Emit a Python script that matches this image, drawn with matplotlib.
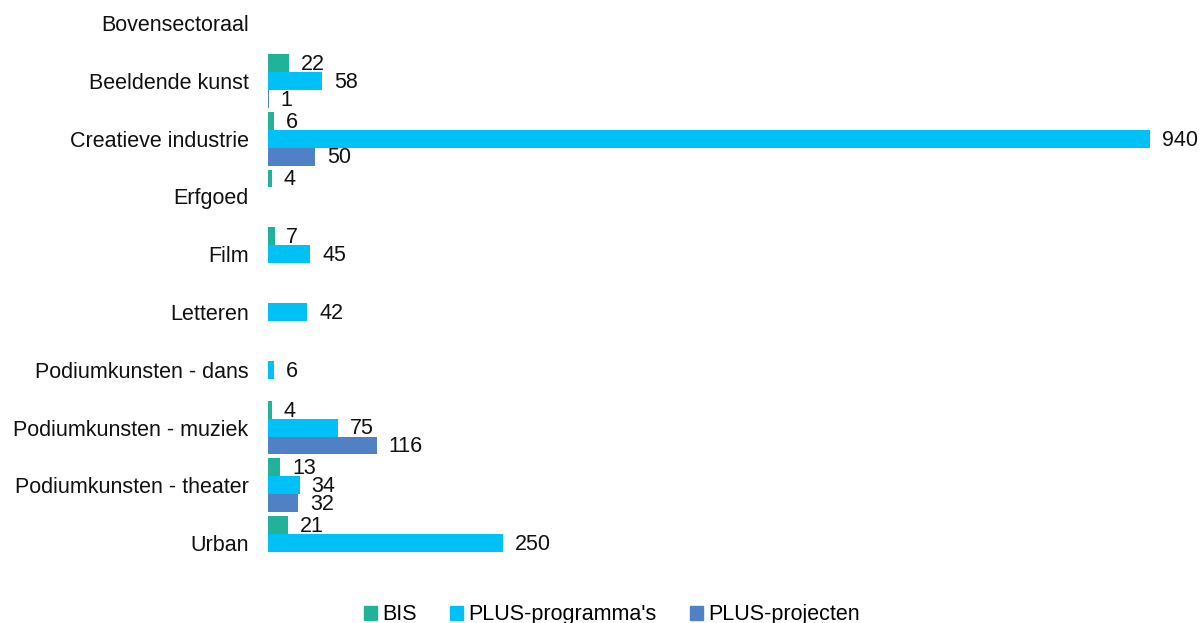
import numpy as np
import matplotlib.pyplot as plt
from matplotlib.patches import Patch

categories = ['Bovensectoraal', 'Beeldende kunst', 'Creatieve industrie', 'Erfgoed', 'Film',
              'Letteren', 'Podiumkunsten - dans', 'Podiumkunsten - muziek',
              'Podiumkunsten - theater', 'Urban']
series_names = ['BIS', "PLUS-programma's", 'PLUS-projecten']
bis = [None, 22, 6, 4, 7, None, None, 4, 13, 21]
plus_prog = [None, 58, 940, None, 45, 42, 6, 75, 34, 250]
plus_proj = [None, 1, 50, None, None, None, None, 116, 32, None]
colors = ['#22b29a', '#00c1f5', '#4f81c4']

plt.rcParams['font.family'] = ['Liberation Sans', 'DejaVu Sans']
fs = 15.5

fig = plt.figure(figsize=(12, 6.23), dpi=100)
ax = fig.add_axes([268/1200, 1 - 572/623, (1150 - 268)/1200, 572/623])

y = np.arange(len(categories))
h = 0.31
for k, (vals, col) in enumerate(zip([bis, plus_prog, plus_proj], colors)):
    off = (k - 1) * h
    for i, v in enumerate(vals):
        if v is None:
            continue
        ax.barh(y[i] + off, v, height=h, color=col, edgecolor='none')
        ax.annotate(str(v), (v, y[i] + off), xytext=(8.5, 0.8), textcoords='offset points',
                    va='center_baseline', ha='left', fontsize=fs, color='#111111')

ax.set_xlim(0, 940)
ax.set_ylim(9.5, -0.4)
ax.set_yticks(y)
ax.set_yticklabels(categories, fontsize=fs, color='#111111')
ax.tick_params(axis='y', length=0, pad=14)
ax.set_xticks([])
for s in ax.spines.values():
    s.set_visible(False)

handles = [Patch(color=c) for c in colors]
fig.legend(handles, series_names, loc='lower center', bbox_to_anchor=(0.51, -0.035), ncol=3,
           frameon=False, fontsize=fs, handlelength=0.6, handleheight=0.6,
           handletextpad=0.25, columnspacing=1.55)

fig.savefig('out.png', dpi=100)
